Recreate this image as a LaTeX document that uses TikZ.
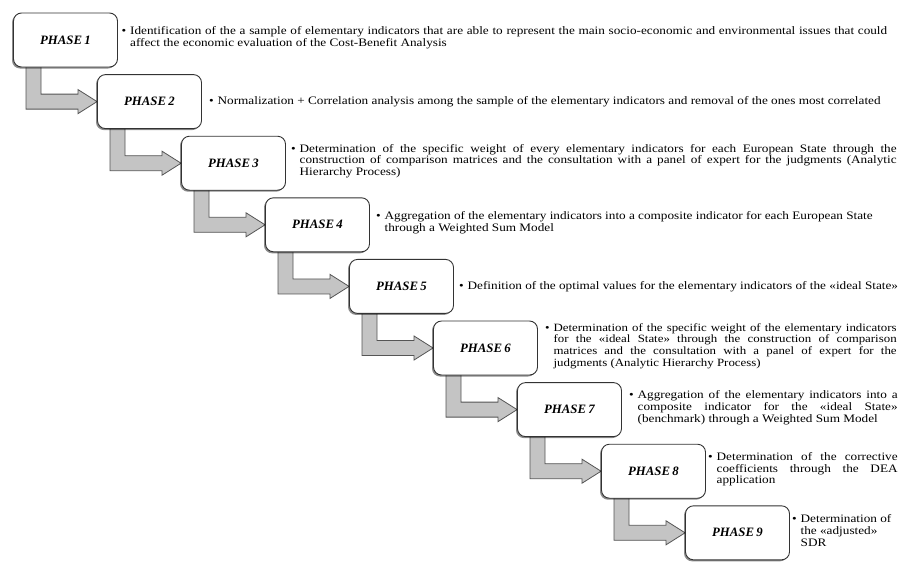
\documentclass[tikz,border=0pt]{standalone}
\usepackage{fontspec}
\setmainfont[FakeStretch=1.16]{Liberation Serif}
\newfontfamily\boxfont{Liberation Serif}
\usetikzlibrary{calc,shadows}
\definecolor{boxline}{HTML}{333333}
\definecolor{arrfill}{HTML}{C4C4C4}
\definecolor{arrline}{HTML}{555555}
\pgfdeclarelayer{bg}
\pgfsetlayers{bg,main}
\tikzset{
  phasebox/.style={draw=boxline, line width=0.9pt, fill=white, rounded corners=8pt,
    minimum width=104pt, minimum height=54pt, inner sep=0pt,
    font=\boxfont\fontsize{12.8}{14}\selectfont\bfseries\itshape,
    drop shadow={shadow xshift=-1.5pt, shadow yshift=-1.5pt, opacity=0.45, fill=black}},
  desc/.style={anchor=west, inner sep=0pt, align=justify, font=\fontsize{11.4}{11.8}\selectfont,
    execute at begin node={\hyphenpenalty=10000\tolerance=9999}},
  blockarrow/.style={draw=arrline, line width=0.8pt, fill=arrfill, line join=miter},
}
\newcommand{\bul}{\llap{•\hspace{4pt}}}
\begin{document}
\begin{tikzpicture}[x=1pt,y=-1pt]
\useasboundingbox (0,0) rectangle (901,563);
\foreach \i in {1,...,9}
  \node[phasebox] (p\i) at ({65.5+84*(\i-1)},{40+61.6*(\i-1)}) {PHASE\hspace{0.18em}\i};
\begin{pgfonlayer}{bg}
\foreach \i [evaluate=\i as \j using int(\i+1)] in {1,...,8}
  \path[blockarrow] let \p1=(p\i.south west), \p2=(p\j.west) in
    (\x1+13pt,\y1+6pt) -- (\x1+13pt,\y2-7.5pt) -- (\x2-19pt,\y2-7.5pt) -- (\x2-19pt,\y2-12pt)
    -- (\x2,\y2) -- (\x2-19pt,\y2+12pt) -- (\x2-19pt,\y2+7.5pt) -- (\x1+28pt,\y2+7.5pt)
    -- (\x1+28pt,\y1+6pt) -- cycle;
\end{pgfonlayer}
\node[desc, text width=757pt] (t1) at ([xshift=12pt,yshift=2pt]p1.east) {\bul Identification of the a sample of elementary indicators that are able to represent the main socio-economic and environmental issues that could\linebreak affect the economic evaluation of the Cost-Benefit Analysis};
\node[desc, align=left] (t2) at ([xshift=15.5pt]p2.east) {\bul Normalization + Correlation analysis among the sample of the elementary indicators and removal of the ones most correlated};
\node[desc, text width=597pt] (t3) at ([xshift=13.5pt,yshift=2pt]p3.east) {\bul Determination of the specific weight of every elementary indicators for each European State through the\linebreak construction of comparison matrices and the consultation with a panel of expert for the judgments (Analytic\linebreak Hierarchy Process)};
\node[desc, text width=488pt] (t4) at ([xshift=14.5pt,yshift=2pt]p4.east) {\bul Aggregation of the elementary indicators into a composite indicator for each European State\linebreak through a Weighted Sum Model};
\node[desc, align=left] (t5) at ([xshift=13.5pt]p5.east) {\bul Definition of the optimal values for the elementary indicators of the «ideal State»};
\node[desc, text width=343pt, font=\fontsize{11.1}{11.6}\selectfont] (t6) at ([xshift=15.5pt,yshift=2pt]p6.east) {\bul Determination of the specific weight of the elementary indicators\linebreak for the «ideal State» through the construction of comparison\linebreak matrices and the consultation with a panel of expert for the\linebreak judgments (Analytic Hierarchy Process)};
\node[desc, text width=260pt] (t7) at ([xshift=15.5pt,yshift=2pt]p7.east) {\bul Aggregation of the elementary indicators into a\linebreak composite indicator for the «ideal State»\linebreak (benchmark) through a Weighted Sum Model};
\node[desc, text width=181pt] (t8) at ([xshift=10.5pt,yshift=2pt]p8.east) {\bul Determination of the corrective\linebreak coefficients through the DEA\linebreak application};
\node[desc, align=left] (t9) at ([xshift=10.5pt,yshift=2pt]p9.east) {\bul Determination of\\the «adjusted»\\SDR};
\end{tikzpicture}
\end{document}
